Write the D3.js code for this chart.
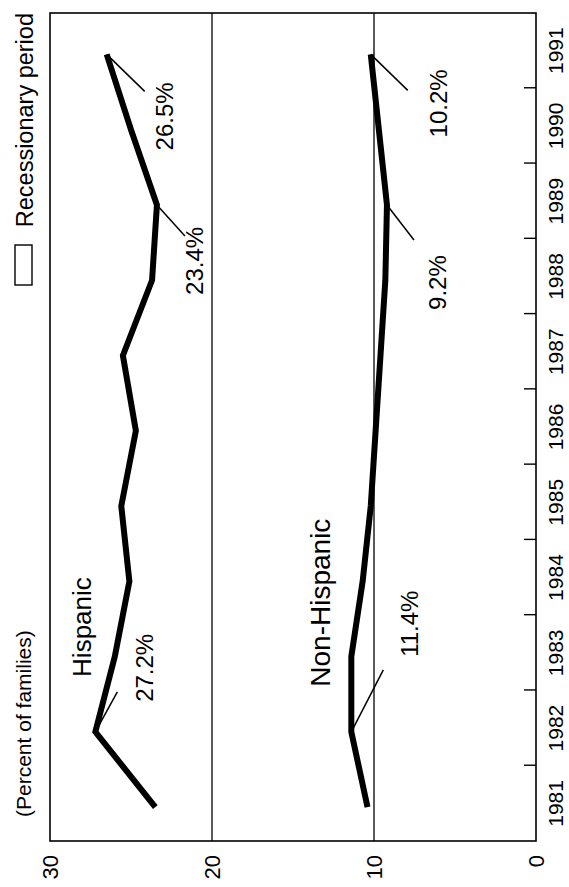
<!DOCTYPE html>
<html>
<head>
<meta charset="utf-8">
<script src="https://cdn.jsdelivr.net/npm/d3@7"></script>
<style>
  body { margin: 0; background: #fff; }
  text { font-family: "Liberation Sans", Arial, Helvetica, sans-serif; fill: #000; }
</style>
</head>
<body>
<div id="wrapper"></div>
<script>
// data
const years = [1981, 1982, 1983, 1984, 1985, 1986, 1987, 1988, 1989, 1990, 1991]
const hispanic = [23.5, 27.2, 26.0, 25.1, 25.6, 24.7, 25.5, 23.7, 23.4, 25.0, 26.5]
const nonHispanic = [10.4, 11.4, 11.4, 10.7, 10.2, 9.9, 9.6, 9.3, 9.2, 9.7, 10.2]
const valueTicks = [0, 10, 20, 30]
const gridValues = [10, 20]
const recessions = [[1981.5, 1982.83], [1990.5, 1991.17]]
const seriesNames = ["Hispanic", "Non-Hispanic"]
const calloutYears = [[1982, 1989, 1991], [1982, 1989, 1991]]

function drawChart() {

  // 1. dimensions (chart is laid out normally, then turned a quarter left)
  let dimensions = {
    width: 887,
    height: 569,
    margin: { top: 50, right: 13, bottom: 33, left: 46 },
  }
  dimensions.boundedWidth = dimensions.width - dimensions.margin.left - dimensions.margin.right
  dimensions.boundedHeight = dimensions.height - dimensions.margin.top - dimensions.margin.bottom

  const svg = d3.select("#wrapper")
    .append("svg")
      .attr("width", dimensions.height)
      .attr("height", dimensions.width)

  const page = svg.append("g")
      .attr("transform", `translate(0, ${dimensions.width}) rotate(-90)`)

  const bounds = page.append("g")
      .attr("transform", `translate(${dimensions.margin.left}, ${dimensions.margin.top})`)

  // 2. scales
  const xScale = d3.scaleLinear()
    .domain([1981, 1992])
    .range([0, dimensions.boundedWidth])
  const yScale = d3.scaleLinear()
    .domain([0, 30])
    .range([dimensions.boundedHeight, 0])
  const at = yr => xScale(yr + 0.45)

  // 3. recessions (left blank in the print)
  bounds.append("g").selectAll("rect")
    .data(recessions)
    .join("rect")
      .attr("x", d => xScale(d[0]))
      .attr("width", d => xScale(d[1]) - xScale(d[0]))
      .attr("y", 0)
      .attr("height", dimensions.boundedHeight)
      .attr("fill", "#fff")

  // gridlines
  bounds.append("g").selectAll("line")
    .data(gridValues)
    .join("line")
      .attr("x1", 0)
      .attr("x2", dimensions.boundedWidth)
      .attr("y1", d => yScale(d))
      .attr("y2", d => yScale(d))
      .attr("stroke", "#000")
      .attr("stroke-width", 1.3)

  // frame
  bounds.append("rect")
    .attr("width", dimensions.boundedWidth)
    .attr("height", dimensions.boundedHeight)
    .attr("fill", "none")
    .attr("stroke", "#000")
    .attr("stroke-width", 1.6)

  // 4. axes
  const xAxis = d3.axisBottom(xScale)
    .tickValues(d3.range(1982, 1992))
    .tickSize(-12)
    .tickFormat("")
  const xAxisG = bounds.append("g")
    .attr("transform", `translate(0, ${dimensions.boundedHeight})`)
    .call(xAxis)
  xAxisG.select(".domain").remove()
  xAxisG.selectAll("line").attr("stroke-width", 1.4)

  bounds.append("g").selectAll("text")
    .data(years)
    .join("text")
      .attr("x", d => xScale(d + 0.5))
      .attr("y", dimensions.boundedHeight + 27)
      .attr("text-anchor", "middle")
      .style("font-size", "21px")
      .text(d => d)

  const yAxis = d3.axisLeft(yScale)
    .tickValues(valueTicks)
    .tickSize(0)
    .tickPadding(14)
  const yAxisG = bounds.append("g").call(yAxis)
  yAxisG.select(".domain").remove()
  yAxisG.selectAll("text")
    .style("font-size", "22px")
    .attr("font-family", null)

  // 5. lines
  const lineGen = d3.line()
    .x((d, i) => at(years[i]))
    .y(d => yScale(d))

  bounds.append("g").selectAll("path")
    .data([hispanic, nonHispanic])
    .join("path")
      .attr("d", lineGen)
      .attr("fill", "none")
      .attr("stroke", "#000")
      .attr("stroke-width", 6)
      .attr("stroke-linejoin", "miter")

  // 6. call-outs
  const calloutStyle = [
    { dx: 40, dy: 22, tx: 30, ty: 58 },     // 1982 Hispanic
    { dx: -31, dy: 28, tx: -90, ty: 46 },   // 1989 Hispanic
    { dx: -37, dy: 38, tx: -96, ty: 66 },   // 1991 Hispanic
    { dx: 62, dy: 32, tx: 75, ty: 67 },     // 1982 Non-Hispanic
    { dx: -35, dy: 27, tx: -105, ty: 59 },  // 1989 Non-Hispanic
    { dx: -36, dy: 37, tx: -83, ty: 76 },   // 1991 Non-Hispanic
  ]
  const callouts = []
  ;[hispanic, nonHispanic].forEach((series, s) => {
    calloutYears[s].forEach(yr => {
      callouts.push({ yr, value: series[years.indexOf(yr)] })
    })
  })
  callouts.forEach((d, i) => Object.assign(d, calloutStyle[i]))

  const ann = bounds.append("g")
  ann.selectAll("line")
    .data(callouts)
    .join("line")
      .attr("x1", d => at(d.yr))
      .attr("y1", d => yScale(d.value))
      .attr("x2", d => at(d.yr) + d.dx)
      .attr("y2", d => yScale(d.value) + d.dy)
      .attr("stroke", "#000")
      .attr("stroke-width", 1.5)
  ann.selectAll("text")
    .data(callouts)
    .join("text")
      .attr("x", d => at(d.yr) + d.tx)
      .attr("y", d => yScale(d.value) + d.ty)
      .style("font-size", "24px")
      .text(d => d.value.toFixed(1) + "%")

  // series names
  const namePos = [[1983.18, 27.5, 26], [1983.05, 12.7, 28]]
  bounds.append("g").selectAll("text")
    .data(seriesNames)
    .join("text")
      .attr("x", (d, i) => xScale(namePos[i][0]))
      .attr("y", (d, i) => yScale(namePos[i][1]))
      .style("font-size", (d, i) => namePos[i][2] + "px")
      .text(d => d)

  // 7. peripherals
  page.append("text")
    .attr("x", 70)
    .attr("y", 31)
    .style("font-size", "21px")
    .text("(Percent of families)")

  const legend = page.append("g")
  legend.append("rect")
    .attr("x", 602)
    .attr("y", 15)
    .attr("width", 40)
    .attr("height", 17)
    .attr("fill", "#fff")
    .attr("stroke", "#000")
    .attr("stroke-width", 1.4)
  legend.append("text")
    .attr("x", dimensions.margin.left + dimensions.boundedWidth)
    .attr("y", 33)
    .attr("text-anchor", "end")
    .style("font-size", "23.5px")
    .text("Recessionary period")
}

drawChart()
</script>
</body>
</html>
